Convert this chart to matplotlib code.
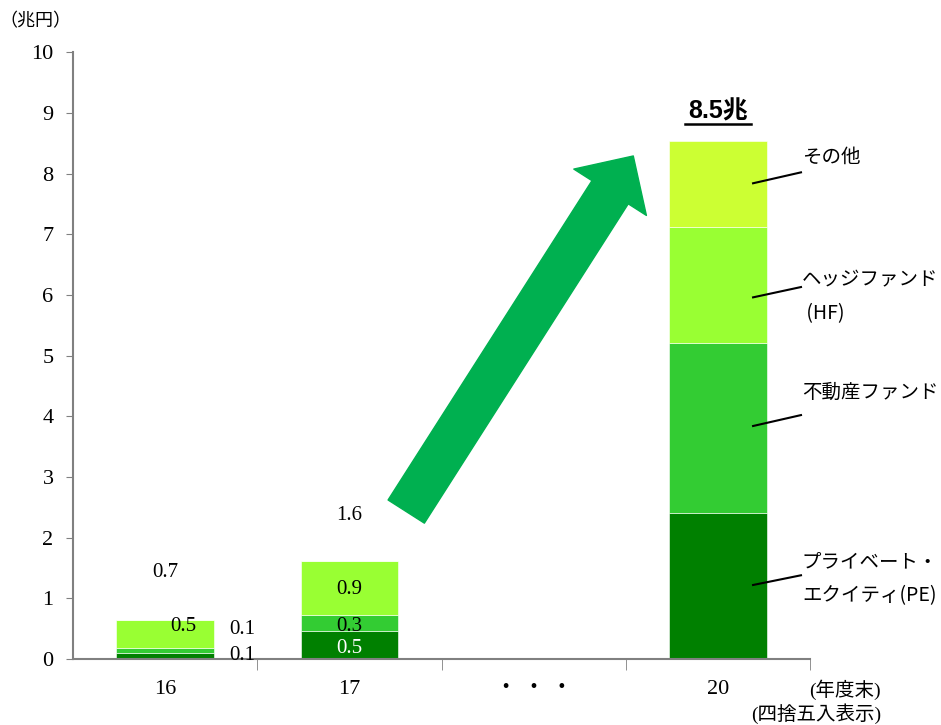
import numpy as np
import matplotlib
matplotlib.use('Agg')
import matplotlib.pyplot as plt

plt.rcParams['font.family'] = ['Liberation Serif', 'Noto Sans CJK JP']

# データ (兆円)
years = ['16', '17', '・ ・ ・', '20']
pe = [0.10, 0.46, 0.0, 2.40]
re_fund = [0.08, 0.26, 0.0, 2.81]
hf = [0.46, 0.89, 0.0, 1.91]
other = [0.0, 0.0, 0.0, 1.41]

colors = ['#008000', '#33CC33', '#99FF33', '#CCFF33']

fig = plt.figure(figsize=(9.41, 7.25), dpi=100)
ax = fig.add_axes([0.0776, 0.091, 0.7834, 0.837])

x = np.arange(len(years))
bottom = np.zeros(len(years))
for vals, c in zip([pe, re_fund, hf, other], colors):
    vals = np.array(vals)
    ax.bar(x, vals, width=0.53, bottom=bottom, color=c, edgecolor='white',
           linewidth=0.4)
    bottom += vals

ax.set_xlim(-0.5, 3.5)
ax.set_ylim(0, 10)
ax.set_yticks(range(0, 11))
ax.set_xticks([])
ax.set_xticks([0.5, 1.5, 2.5, 3.5], minor=True)
ax.tick_params(axis='x', which='minor', length=8, color='#808080', labelbottom=False)
ax.tick_params(axis='y', length=5, color='#808080', labelsize=16, pad=9)
for s in ['top', 'right']:
    ax.spines[s].set_visible(False)
for s in ['left', 'bottom']:
    ax.spines[s].set_color('#808080')
    ax.spines[s].set_linewidth(1.5)

# x ラベル
for xi, lab in zip(x, years):
    ax.text(xi, -0.5, lab, ha='center', va='center', fontsize=16)
ax.text(3.69, -0.5, '(年度末)', ha='center', va='center', fontsize=14)
ax.text(3.53, -0.9, '(四捨五入表示)', ha='center', va='center', fontsize=14)
ax.text(-0.705, 10.5, '（兆円）', ha='center', va='center', fontsize=13)

# データラベル
lab_fs = 15
ax.text(0, 1.43, '0.7', ha='center', va='center', fontsize=lab_fs)
ax.text(0.1, 0.54, '0.5', ha='center', va='center', fontsize=lab_fs)
ax.text(0.42, 0.49, '0.1', ha='center', va='center', fontsize=lab_fs)
ax.text(0.42, 0.06, '0.1', ha='center', va='center', fontsize=lab_fs)
ax.text(1, 2.36, '1.6', ha='center', va='center', fontsize=lab_fs)
ax.text(1, 1.15, '0.9', ha='center', va='center', fontsize=lab_fs)
ax.text(1, 0.54, '0.3', ha='center', va='center', fontsize=lab_fs)
ax.text(1, 0.18, '0.5', ha='center', va='center', fontsize=lab_fs, color='white')

# 合計 8.5兆
ax.text(3, 9.02, '8.5兆', ha='center', va='center', fontsize=18, fontweight='bold',
        family=['Liberation Sans', 'Noto Sans CJK JP'])
ax.plot([2.82, 3.18], [8.81, 8.81], color='black', lw=1.8, clip_on=False)

# 凡例の引き出し線
callouts = [
    (7.84, 8.02, 8.27, 'その他'),
    (5.96, 6.13, 5.97, 'ヘッジファンド\n (HF)'),
    (3.84, 4.02, 4.40, '不動産ファンド'),
    (1.22, 1.38, 1.32, 'プライベート・\nエクイティ(PE)'),
]
for y0, y1, yt, txt in callouts:
    ax.plot([3.19, 3.45], [y0, y1], color='black', lw=1.5, clip_on=False)
    ax.text(3.455, yt, txt, ha='left', va='center', fontsize=14, linespacing=1.8,
            family=['Noto Sans CJK JP', 'Liberation Serif'])

# 矢印
ax.annotate('', xy=(2.54, 8.29), xytext=(1.308, 2.43),
            arrowprops=dict(arrowstyle='simple,head_length=31,head_width=62,tail_width=31',
                            mutation_scale=1, color='#00B050', shrinkA=0, shrinkB=0))

fig.savefig('out.png', dpi=100)
